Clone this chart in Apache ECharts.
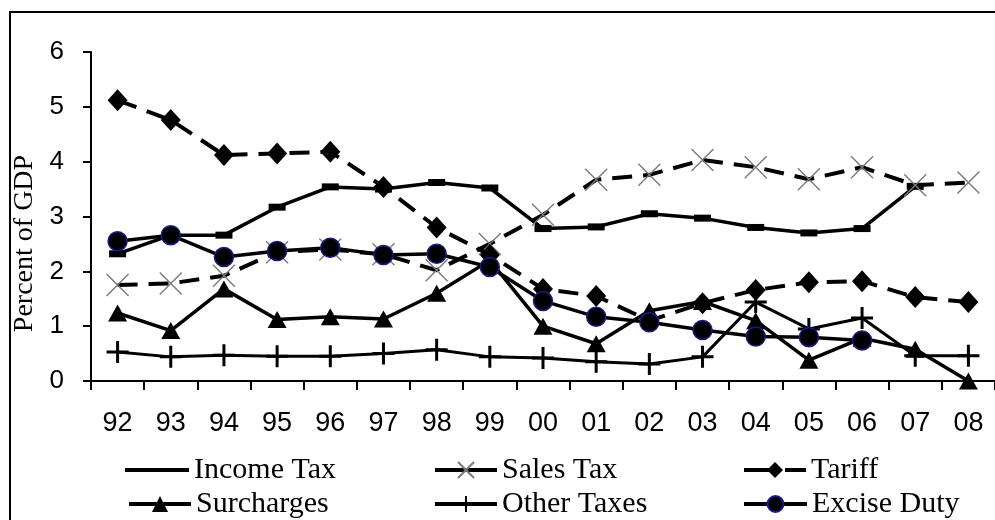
<!DOCTYPE html>
<html>
<head>
<meta charset="utf-8">
<script src="https://cdn.jsdelivr.net/npm/echarts@6/dist/echarts.min.js"></script>
<style>
html,body{margin:0;padding:0;background:#fff;}
#chart{width:995px;height:520px;}
</style>
</head>
<body>
<div id="chart"></div>
<script>
var categories = ['92','93','94','95','96','97','98','99','00','01','02','03','04','05','06','07','08'];
var yTicks = [0, 1, 2, 3, 4, 5, 6];
var incomeTax  = [2.32, 2.66, 2.66, 3.17, 3.54, 3.50, 3.62, 3.52, 2.78, 2.81, 3.05, 2.97, 2.80, 2.70, 2.78, 3.55, null];
var salesTax   = [1.75, 1.78, 1.92, 2.35, 2.40, 2.31, 2.02, 2.50, 3.03, 3.67, 3.76, 4.03, 3.90, 3.68, 3.90, 3.57, 3.62];
var tariff     = [5.12, 4.76, 4.12, 4.15, 4.18, 3.54, 2.80, 2.30, 1.68, 1.55, 1.10, 1.42, 1.66, 1.80, 1.82, 1.53, 1.44];
var surcharges = [1.24, 0.92, 1.68, 1.12, 1.17, 1.13, 1.60, 2.20, 1.00, 0.68, 1.28, 1.45, 1.10, 0.38, 0.78, 0.58, 0.00];
var otherTaxes = [0.53, 0.44, 0.47, 0.45, 0.45, 0.50, 0.57, 0.44, 0.42, 0.35, 0.31, 0.44, 1.44, 0.95, 1.15, 0.46, 0.46];
var exciseDuty = [2.55, 2.66, 2.26, 2.37, 2.43, 2.30, 2.32, 2.08, 1.46, 1.17, 1.07, 0.93, 0.81, 0.80, 0.74, null, null];

var chart = echarts.init(document.getElementById('chart'));
var serif = '"Liberation Serif","Times New Roman",serif';
var sans = '"Liberation Sans",Arial,sans-serif';
var dash = [20, 11];

function legendAt(name, left, top, w, extra) {
  var l = {
    data: [name], left: left, top: top, orient: 'horizontal',
    itemWidth: w, itemHeight: 20, itemGap: 0, padding: 0,
    selectedMode: false,
    lineStyle: {width: 4},
    textStyle: {fontFamily: serif, fontSize: 30, color: '#000'}
  };
  if (extra) { for (var k in extra) l[k] = extra[k]; }
  return l;
}

var option = {
  backgroundColor: '#fff',
  animation: false,
  graphic: [{
    type: 'rect', shape: {x: 10, y: 12, width: 1100, height: 700},
    style: {fill: 'none', stroke: '#000', lineWidth: 2}, silent: true
  }],
  grid: {left: 91, right: 0, top: 52, bottom: 139, containLabel: false},
  legend: [
    legendAt('Income Tax', 125, 455, 64, {icon: 'rect', itemHeight: 4, itemStyle: {color: '#000'}}),
    legendAt('Sales Tax', 433, 455, 62, {lineStyle: {width: 4, type: 'solid'}}),
    legendAt('Tariff', 742, 455, 62, {lineStyle: {width: 4, type: [28, 13]}}),
    legendAt('Surcharges', 127, 489, 62),
    legendAt('Other Taxes', 433, 489, 62),
    legendAt('Excise Duty', 742, 489, 63)
  ],
  xAxis: {
    type: 'category', data: categories, boundaryGap: true,
    axisLine: {lineStyle: {color: '#000', width: 2}},
    axisTick: {show: true, length: 9, inside: false, lineStyle: {color: '#000', width: 2}},
    axisLabel: {color: '#000', fontFamily: sans, fontSize: 27, margin: 29, interval: 0},
    splitLine: {show: false}
  },
  yAxis: {
    type: 'value', min: yTicks[0], max: yTicks[yTicks.length - 1], interval: 1,
    name: 'Percent of GDP', nameLocation: 'middle', nameGap: 50, nameRotate: 90,
    nameTextStyle: {fontFamily: serif, fontSize: 28, color: '#000', padding: [0, 54, 0, 0]},
    axisLine: {show: true, lineStyle: {color: '#000', width: 2}},
    axisTick: {show: true, length: 8, inside: false, lineStyle: {color: '#000', width: 2}},
    axisLabel: {color: '#000', fontFamily: sans, fontSize: 26, margin: 27},
    splitLine: {show: false}
  },
  series: [
    {
      name: 'Income Tax', type: 'line', data: incomeTax,
      symbol: 'rect', symbolSize: [17, 7],
      lineStyle: {color: '#000', width: 3.5},
      itemStyle: {color: '#000'}, z: 2
    },
    {
      name: 'Sales Tax', type: 'line', data: salesTax,
      symbol: 'path://M0,0L10,10M10,0L0,10', symbolSize: 22,
      lineStyle: {color: '#000', width: 4, type: dash},
      itemStyle: {color: 'rgba(0,0,0,0)', borderColor: '#7a7a7a', borderWidth: 1.4}, z: 3
    },
    {
      name: 'Tariff', type: 'line', data: tariff,
      symbol: 'diamond', symbolSize: [20, 22],
      lineStyle: {color: '#000', width: 4, type: dash},
      itemStyle: {color: '#000'}, z: 4
    },
    {
      name: 'Surcharges', type: 'line', data: surcharges,
      symbol: 'triangle', symbolSize: [19, 17],
      lineStyle: {color: '#000', width: 3.5},
      itemStyle: {color: '#000'}, z: 5
    },
    {
      name: 'Other Taxes', type: 'line', data: otherTaxes,
      symbol: 'path://M5,0L5,10M0,5L10,5', symbolSize: 22,
      lineStyle: {color: '#000', width: 3},
      itemStyle: {color: 'rgba(0,0,0,0)', borderColor: '#000', borderWidth: 3}, z: 6
    },
    {
      name: 'Excise Duty', type: 'line', data: exciseDuty,
      symbol: 'circle', symbolSize: 19,
      lineStyle: {color: '#000', width: 3.5},
      itemStyle: {color: '#000', borderColor: '#1a1a8c', borderWidth: 1.5}, z: 7
    }
  ]
};
chart.setOption(option);
</script>
</body>
</html>
